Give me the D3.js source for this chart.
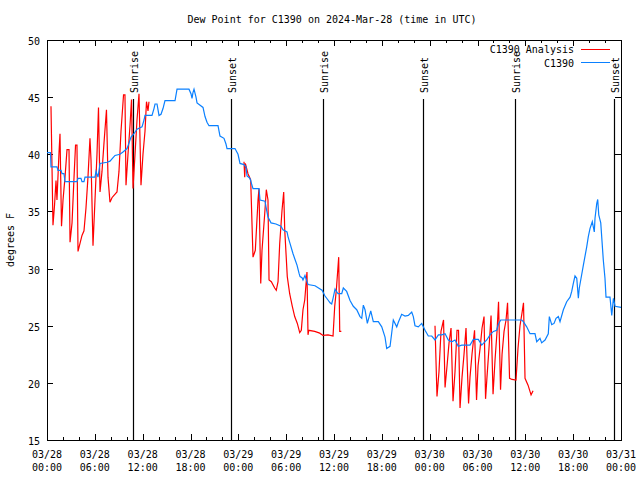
<!DOCTYPE html>
<html><head><meta charset="utf-8">
<script src="https://d3js.org/d3.v7.min.js"></script>
<style>
body{margin:0;background:#fff}
svg{display:block}
text{font-family:"DejaVu Sans Mono",monospace;font-size:10px;fill:#000}
</style>
</head><body>
<svg id="c" width="640" height="480"></svg>
<script>
// Hours since 2024-03-28 00:00 UTC
const blueHours=[0.00,0.44,0.50,1.25,1.38,1.76,1.88,2.13,2.26,3.76,3.89,4.26,4.39,4.64,4.77,6.02,6.15,6.40,6.65,7.53,7.90,8.53,9.16,9.53,10.04,10.29,10.54,10.91,11.29,11.92,12.17,12.29,13.17,13.42,13.55,13.80,14.05,14.30,14.55,14.80,16.06,16.31,17.81,18.06,18.19,18.31,18.44,18.69,18.82,19.57,19.82,20.07,20.32,21.45,21.70,22.20,22.45,22.58,23.58,23.96,24.21,24.71,24.96,25.09,25.46,25.71,25.84,26.59,26.72,27.35,27.47,27.72,28.10,28.72,29.35,29.60,30.11,30.23,30.48,30.86,31.11,31.36,31.61,31.74,31.99,32.11,32.36,32.49,32.74,33.62,34.50,34.87,35.25,35.50,35.71,35.88,36.13,36.50,36.97,37.17,37.59,38.01,38.42,38.85,39.26,39.48,39.68,39.89,40.18,40.61,40.93,41.56,41.99,42.40,42.61,43.03,43.44,43.87,44.07,44.49,44.91,45.32,45.75,45.95,46.16,46.58,47.00,47.42,47.83,48.26,48.67,49.09,49.51,49.93,50.34,50.77,51.18,51.59,52.02,53.06,53.48,54.10,54.53,55.16,55.57,55.99,56.41,56.61,56.91,59.55,59.75,60.17,60.59,61.21,61.43,61.84,62.05,62.47,62.88,63.01,63.31,63.60,63.85,64.14,64.35,64.77,65.19,65.61,65.82,66.02,66.23,66.45,66.65,66.77,66.95,67.28,67.70,67.90,68.11,68.40,68.65,68.74,68.96,69.08,69.21,69.46,69.78,69.99,70.12,70.62,70.84,71.05,71.26,72.00];
const blueValues=[40.15,40.15,38.9,38.9,38.6,38.6,38.3,38.3,37.6,37.6,37.9,37.9,37.6,37.6,38.0,38.0,38.5,38.0,39.2,39.3,39.4,39.9,40.0,40.2,40.5,41.0,41.5,41.8,42.2,42.4,43.0,43.4,43.4,44.0,44.4,44.4,43.4,43.5,44.0,44.7,44.7,45.7,45.7,45.3,44.9,45.4,45.7,45.0,44.5,44.1,43.3,42.8,42.5,42.5,41.6,41.4,40.9,40.5,40.5,40.0,39.2,39.1,38.9,38.1,37.9,37.3,37.0,37.0,36.0,35.9,35.4,34.5,34.0,33.9,33.7,33.4,33.2,32.8,32.2,31.3,30.8,30.3,29.6,29.3,29.2,29.0,29.4,29.1,28.6,28.5,28.1,27.6,27.25,27.0,26.9,27.4,28.2,27.8,27.8,28.3,28.0,27.2,26.7,26.4,25.8,25.65,26.8,26.4,25.2,26.3,25.35,25.35,24.9,24.0,23.0,23.2,25.5,24.9,25.3,26.0,25.85,25.9,26.2,25.8,25.0,24.9,25.2,24.6,24.1,24.1,23.75,24.2,24.2,24.3,23.75,23.6,23.75,23.2,23.3,23.3,23.8,23.8,23.3,23.75,24.2,24.5,24.6,25.1,25.5,25.5,25.35,24.9,24.3,24.3,23.6,23.9,23.5,23.75,24.3,25.8,25.1,25.2,25.65,25.8,25.35,26.4,27.1,27.5,28.0,28.7,29.35,29.15,27.4,28.3,29.0,30.3,31.9,32.8,33.5,34.1,33.2,34.4,35.7,36.05,34.7,34.0,30.75,29.15,27.5,27.5,25.9,27.4,26.7,26.6];

// Analysis series, three runs separated by gaps (null)
const redHours=[0.50,0.75,0.94,1.13,1.25,1.51,1.63,1.82,2.01,2.26,2.51,2.76,2.89,3.14,3.39,3.58,3.76,3.89,4.14,4.39,4.64,4.89,5.14,5.39,5.52,5.77,6.02,6.27,6.46,6.65,6.90,7.15,7.46,7.65,7.90,8.15,8.40,8.78,9.03,9.28,9.60,9.78,9.91,10.16,10.41,10.60,10.79,11.04,11.29,11.54,11.79,12.04,12.29,12.48,12.67,12.79,
 18.0,
 24.71,24.80,24.88,25.21,25.55,25.84,26.13,26.47,26.59,26.81,26.97,27.31,27.51,27.72,27.85,28.14,28.56,28.76,28.98,29.19,29.48,29.69,29.82,30.14,30.44,30.77,31.07,31.40,31.70,31.90,32.11,32.33,32.61,32.74,32.83,33.58,34.21,34.62,35.25,35.88,36.09,36.29,36.59,36.72,36.92,
 42.0,
 48.67,48.92,49.17,49.42,49.74,49.93,50.18,50.43,50.68,50.93,51.18,51.43,51.62,51.81,52.06,52.31,52.56,52.88,53.06,53.31,53.63,53.88,54.07,54.32,54.57,54.82,55.01,55.19,55.44,55.70,55.95,56.20,56.45,56.64,56.89,57.08,57.33,57.58,57.77,58.02,58.33,58.83,59.08,59.33,59.58,59.77,59.96,60.34,60.72,60.97];
const redValues=[44.2,33.8,35.5,37.7,36.0,40.2,41.8,33.7,36,38,40.4,40.4,32.3,34,38,40.8,40.8,31.5,32.2,32.9,33.3,35.3,38,41.4,39.5,32.0,36,40,44.1,36.7,38.5,41.0,43.9,38,35.8,36.2,36.4,36.7,38.5,42,45.2,45.2,37.3,40,42.5,44.8,37.0,40,43,45.3,37.3,40,42,44.6,43.8,44.6,
 null,
 39.35,38.0,39.2,38.3,37.75,31.0,31.6,36.0,37.0,28.7,31.6,34.8,36.9,36.0,29.0,28.85,28.3,28.1,28.85,32.2,35.1,36.7,33.4,29.3,27.8,26.7,25.8,25.2,24.4,24.6,26.4,27.25,29.7,24.2,24.6,24.5,24.35,24.15,24.2,24.1,26.7,28.1,31.0,24.5,24.5,
 null,
 25.0,18.8,21,24.5,25.5,19.6,21.5,23.5,24.8,18.4,21,24.6,24.6,17.8,20.5,22.5,24.8,18.2,20.5,22.5,24.6,18.5,21.5,23,24.8,25.8,18.6,20.5,23,25.9,19.0,22,24.5,27.1,19.4,22.5,24.5,25.5,27.0,20.4,20.3,20.25,23,25,26.1,27.0,20.4,19.8,18.95,19.3];

const sunHours=[10.77,23.12,34.64,47.19,58.73,71.14];
const sunLabels=["Sunrise","Sunset","Sunrise","Sunset","Sunrise","Sunset"];

const xTickHours=[0,6,12,18,24,30,36,42,48,54,60,66,72];
const xTickDates=["03/28","03/28","03/28","03/28","03/29","03/29","03/29","03/29","03/30","03/30","03/30","03/30","03/31"];
const xTickTimes=["00:00","06:00","12:00","18:00","00:00","06:00","12:00","18:00","00:00","06:00","12:00","18:00","00:00"];
const yTicks=[15,20,25,30,35,40,45,50];

const svg=d3.select("#c");
const L=47,R=621,T=40,B=440;
const x=d3.scaleLinear().domain([0,72]).range([L,R]);
const y=d3.scaleLinear().domain([15,50]).range([B,T]);

// title
svg.append("text").attr("x",332).attr("y",23).attr("text-anchor","middle").text("Dew Point for C1390 on 2024-Mar-28 (time in UTC)");
// y label
svg.append("text").attr("transform","translate(14,240) rotate(-90)").attr("text-anchor","middle").text("degrees F");

// sunrise/sunset
const sg=svg.append("g");
sunHours.forEach((h,i)=>{
  const px=Math.round(x(h))+0.5;
  sg.append("line").attr("x1",px).attr("x2",px).attr("y1",99).attr("y2",B).attr("stroke","#000").attr("stroke-width",1.2);
  sg.append("text").attr("transform",`translate(${px+4},93) rotate(-90)`).attr("text-anchor","start").text(sunLabels[i]);
});

// axes
const ax=svg.append("g").attr("shape-rendering","crispEdges").attr("stroke","#000");
ax.append("rect").attr("x",L+0.5).attr("y",T+0.5).attr("width",R-L).attr("height",B-T).attr("fill","none");
const minor=d3.range(0,73,2).filter(h=>h%6!==0);
minor.forEach(h=>{
  const px=Math.round(x(h))+0.5;
  ax.append("line").attr("x1",px).attr("x2",px).attr("y1",B).attr("y2",B-3);
  ax.append("line").attr("x1",px).attr("x2",px).attr("y1",T).attr("y2",T+3);
});
xTickHours.forEach((h,i)=>{
  const px=Math.round(x(h))+0.5;
  ax.append("line").attr("x1",px).attr("x2",px).attr("y1",B).attr("y2",B-6);
  ax.append("line").attr("x1",px).attr("x2",px).attr("y1",T).attr("y2",T+6);
  svg.append("text").attr("x",x(h)).attr("y",458).attr("text-anchor","middle").text(xTickDates[i]);
  svg.append("text").attr("x",x(h)).attr("y",471).attr("text-anchor","middle").text(xTickTimes[i]);
});
yTicks.forEach(v=>{
  const py=Math.round(y(v))+0.5;
  ax.append("line").attr("x1",L).attr("x2",L+6).attr("y1",py).attr("y2",py);
  ax.append("line").attr("x1",R).attr("x2",R-6).attr("y1",py).attr("y2",py);
  svg.append("text").attr("x",40).attr("y",py+4).attr("text-anchor","end").text(v);
});

// data
const redData=redHours.map((h,i)=>({h,v:redValues[i]}));
const blueData=blueHours.map((h,i)=>({h,v:blueValues[i]}));
const line=d3.line().defined(d=>d.v!==null).x(d=>x(d.h)).y(d=>y(d.v));
svg.append("path").datum(redData).attr("d",line).attr("fill","none").attr("stroke","#ff0000").attr("stroke-width",1.2);
svg.append("path").datum(blueData).attr("d",line).attr("fill","none").attr("stroke","#0a80ff").attr("stroke-width",1.2);

// legend
svg.append("text").attr("x",574).attr("y",53).attr("text-anchor","end").text("C1390 Analysis");
svg.append("line").attr("x1",581).attr("x2",610).attr("y1",49.5).attr("y2",49.5).attr("stroke","#ff0000");
svg.append("text").attr("x",574).attr("y",67).attr("text-anchor","end").text("C1390");
svg.append("line").attr("x1",581).attr("x2",610).attr("y1",62.5).attr("y2",62.5).attr("stroke","#0a80ff");
</script>
</body></html>
